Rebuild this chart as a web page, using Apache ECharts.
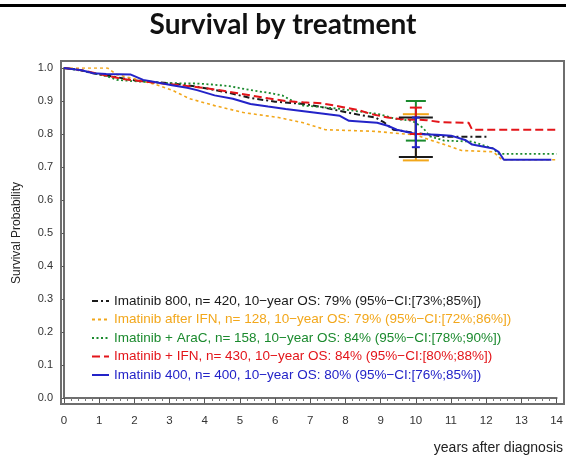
<!DOCTYPE html>
<html>
<head>
<meta charset="utf-8">
<script src="https://cdn.jsdelivr.net/npm/echarts@6/dist/echarts.min.js"></script>
<style>
    html, body { margin: 0; padding: 0; background: #fff; }
    #chart { width: 566px; height: 455px; }
</style>
</head>
<body>
<div id="chart"></div>
<script>
// 图例名称
var names = [
    'Imatinib 800, n= 420, 10\u2212year OS: 79% (95%\u2212CI:[73%;85%])',
    'Imatinib after IFN, n= 128, 10\u2212year OS: 79% (95%\u2212CI:[72%;86%])',
    'Imatinib + AraC, n= 158, 10\u2212year OS: 84% (95%\u2212CI:[78%;90%])',
    'Imatinib + IFN, n= 430, 10\u2212year OS: 84% (95%\u2212CI:[80%;88%])',
    'Imatinib 400, n= 400, 10\u2212year OS: 80% (95%\u2212CI:[76%;85%])'
];

// 生存曲线 [年, 生存率]
var im800 = [[0,1],[0.4,0.995],[0.83,0.984],[1.5,0.972],[2.05,0.962],[2.6,0.957],[3.07,0.953],[3.7,0.945],[4.3,0.933],[4.8,0.922],[5.3,0.909],[6.0,0.898],[6.8,0.891],[7.3,0.882],[7.84,0.87],[8.4,0.858],[8.85,0.85],[9.1,0.835],[9.36,0.813],[10.0,0.803],[10.4,0.798],[10.8,0.792],[12.05,0.792]];
var imAfterIfn = [[0,1],[1.24,1],[1.5,0.98],[2.05,0.966],[2.6,0.95],[3.07,0.933],[3.57,0.907],[4.28,0.886],[5.1,0.865],[6.1,0.85],[6.8,0.834],[7.43,0.813],[8.3,0.81],[8.85,0.808],[9.36,0.803],[10.0,0.797],[10.4,0.782],[10.7,0.772],[11.3,0.75],[12.2,0.746],[12.45,0.722],[14,0.722]];
var imAraC = [[0,1],[0.6,0.99],[1.24,0.974],[1.5,0.964],[2.25,0.958],[3.0,0.954],[3.78,0.953],[4.2,0.95],[4.7,0.945],[5.3,0.933],[5.8,0.925],[6.2,0.917],[6.5,0.9],[6.8,0.886],[7.3,0.882],[7.84,0.876],[8.4,0.868],[8.95,0.86],[9.46,0.845],[9.9,0.84],[10.2,0.819],[10.4,0.793],[10.8,0.78],[11.6,0.777],[12.2,0.756],[12.35,0.74],[14,0.74]];
var imIfn = [[0,1],[0.5,0.993],[1.0,0.982],[1.6,0.968],[2.2,0.96],[2.8,0.953],[3.27,0.948],[3.8,0.942],[4.28,0.935],[4.8,0.926],[5.3,0.917],[5.8,0.908],[6.3,0.9],[6.8,0.896],[7.33,0.893],[7.9,0.882],[8.35,0.873],[8.75,0.86],[9.2,0.85],[9.6,0.845],[10.3,0.842],[10.7,0.836],[11.5,0.834],[11.6,0.813],[14,0.813]];
var im400 = [[0,1],[0.5,0.993],[0.83,0.984],[1.2,0.982],[1.9,0.98],[2.25,0.964],[2.7,0.955],[3.07,0.948],[3.5,0.94],[3.78,0.933],[4.28,0.917],[4.8,0.907],[5.3,0.891],[5.8,0.883],[6.3,0.876],[7.1,0.865],[7.84,0.855],[8.1,0.84],[8.9,0.834],[9.2,0.825],[9.46,0.813],[10.0,0.8],[10.6,0.798],[11.0,0.795],[11.4,0.782],[11.6,0.768],[12.2,0.756],[12.35,0.746],[12.5,0.722],[13.85,0.722]];

// 10年置信区间
var ciYear = 10;
var ciLow = [0.73, 0.72, 0.78, 0.80, 0.76];
var ciHigh = [0.85, 0.86, 0.90, 0.88, 0.85];

var curves = [im800, imAfterIfn, imAraC, imIfn, im400];
var colors = ['#1a1a1a', '#f2a71b', '#1b8a2e', '#e3151a', '#2323c8'];
var dashes = [[6, 3, 2, 3], [3, 3], [2, 2.5], [8, 4], 'solid'];
var widths = [2, 1.6, 1.8, 2, 2];
var capHalf = [17, 13, 10, 6, 4];
var ciOrder = [1, 2, 3, 0, 4];

var chart = echarts.init(document.getElementById('chart'));

var series = [];
for (var i = 0; i < curves.length; i++) {
    series.push({
        name: names[i],
        type: 'line',
        symbol: 'none',
        data: curves[i],
        lineStyle: { color: colors[i], width: widths[i], type: dashes[i] },
        itemStyle: { color: colors[i] },
        z: 3
    });
}

// 误差线
function makeRender(half) {
    return function (params, api) {
        var lo = api.coord([api.value(0), api.value(1)]);
        var hi = api.coord([api.value(0), api.value(2)]);
        var st = { stroke: api.visual('color'), lineWidth: 2 };
        return {
            type: 'group',
            children: [
                { type: 'line', shape: { x1: lo[0], y1: lo[1], x2: hi[0], y2: hi[1] }, style: st },
                { type: 'line', shape: { x1: lo[0] - half, y1: lo[1], x2: lo[0] + half, y2: lo[1] }, style: st },
                { type: 'line', shape: { x1: hi[0] - half, y1: hi[1], x2: hi[0] + half, y2: hi[1] }, style: st }
            ]
        };
    };
}
for (var k = 0; k < ciOrder.length; k++) {
    var j = ciOrder[k];
    series.push({
        name: 'ci' + j,
        type: 'custom',
        renderItem: makeRender(capHalf[j]),
        itemStyle: { color: colors[j] },
        data: [[ciYear, ciLow[j], ciHigh[j]]],
        z: 4
    });
}

var legendData = [];
for (var n = 0; n < names.length; n++) {
    legendData.push({ name: names[n], textStyle: { color: colors[n] } });
}

chart.setOption({
    animation: false,
    title: {
        text: 'Survival by treatment',
        left: 'center',
        top: 6,
        textStyle: { fontFamily: 'Lato', fontWeight: 'bold', fontSize: 28, color: '#111' }
    },
    graphic: [
        { type: 'rect', shape: { x: 0, y: 4, width: 566, height: 3 }, style: { fill: '#000' } },
        {
            type: 'rect', shape: { x: 61, y: 61, width: 503, height: 343 },
            style: { fill: 'none', stroke: '#6e6e6e', lineWidth: 2 }, z: 10
        },
        {
            type: 'text', right: 3, top: 441,
            style: { text: 'years after diagnosis', font: '14px "Liberation Sans"', fill: '#222' }
        }
    ],
    legend: {
        orient: 'vertical',
        left: 86,
        top: 289,
        itemWidth: 17,
        itemHeight: 10,
        itemGap: 4.5,
        data: legendData,
        itemStyle: { opacity: 0 },
        textStyle: { fontFamily: 'Liberation Sans', fontSize: 13.5 }
    },
    grid: { left: 64, right: 5, top: 68, bottom: 57 },
    xAxis: {
        type: 'value',
        min: 0,
        max: 14,
        interval: 1,
        offset: 6,
        axisLine: { show: true, lineStyle: { color: '#6e6e6e', width: 2 } },
        axisTick: { length: 5, lineStyle: { color: '#555' } },
        minorTick: { show: true, splitNumber: 5, length: 3, lineStyle: { color: '#777' } },
        splitLine: { show: false },
        axisLabel: { fontFamily: 'Liberation Sans', fontSize: 11.5, color: '#333', margin: 11 }
    },
    yAxis: {
        type: 'value',
        min: 0,
        max: 1,
        interval: 0.1,
        offset: 3,
        name: 'Survival Probability',
        nameLocation: 'middle',
        nameGap: 38,
        nameTextStyle: { fontFamily: 'Liberation Sans', fontSize: 12, color: '#222' },
        axisLine: { show: true, lineStyle: { color: '#6e6e6e', width: 2 } },
        axisTick: { length: 4, lineStyle: { color: '#555' } },
        splitLine: { show: false },
        axisLabel: {
            fontFamily: 'Liberation Sans', fontSize: 11, color: '#333', margin: 8,
            formatter: function (v) { return v.toFixed(1); }
        }
    },
    series: series
});
</script>
</body>
</html>
